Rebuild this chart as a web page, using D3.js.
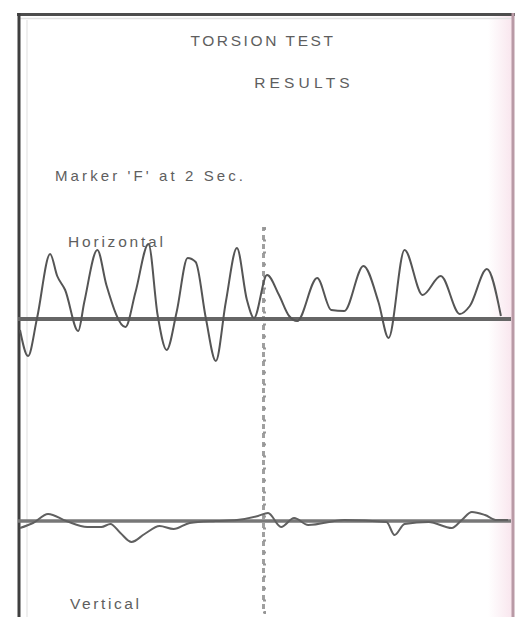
<!DOCTYPE html>
<html>
<head>
<meta charset="utf-8">
<script src="https://cdn.jsdelivr.net/npm/d3@7"></script>
<style>
  html, body { margin: 0; padding: 0; background: #fff; }
  svg { display: block; }
  text { font-family: "Liberation Sans", Arial, sans-serif; fill: #5e5e5e; }
</style>
</head>
<body>
<svg id="chart" width="520" height="617"></svg>
<script>
// ---- Data (time in seconds, displacement in arbitrary units) ----
const titleLines = ["TORSION TEST", "RESULTS"];
const markerNote = "Marker 'F' at 2 Sec.";
const seriesNames = ["Horizontal", "Vertical"];
const markerTime = 2;

const hTime  = [0, 0.066, 0.14, 0.247, 0.305, 0.37, 0.477, 0.527, 0.634, 0.708, 0.864, 0.947, 1.053, 1.128, 1.202, 1.284, 1.374, 1.44, 1.523, 1.605, 1.687, 1.778, 1.86, 1.918, 2.025, 2.123, 2.206, 2.272, 2.436, 2.551, 2.658, 2.815, 2.938, 3.021, 3.152, 3.3, 3.449, 3.605, 3.687, 3.827, 3.942];
const hValue = [-1.1, -3.7, 0.1, 6.5, 4.3, 2.9, -1.2, 1.7, 6.9, 3.4, -0.8, 2.7, 7.5, 0.4, -3.1, 0.7, 6.1, 5.7, 0.1, -4.2, 1.7, 7.1, 1.9, 0.1, 4.4, 2.4, 0.3, -0.2, 4.1, 0.9, 0.8, 5.3, 1.7, -1.9, 6.9, 2.4, 4.3, 0.5, 1.3, 5.0, 0.3];

const vTime  = [0, 0.107, 0.23, 0.379, 0.551, 0.667, 0.741, 0.823, 0.914, 1.021, 1.144, 1.259, 1.391, 1.605, 1.778, 1.951, 2.033, 2.14, 2.247, 2.362, 2.658, 3.004, 3.07, 3.152, 3.35, 3.539, 3.621, 3.704, 3.811, 3.909, 4.0];
const vValue = [-0.7, -0.2, 0.7, 0, -0.6, -0.6, -0.3, -1.2, -2.1, -1.3, -0.5, -0.8, -0.2, 0, 0.1, 0.5, 0.8, -0.6, 0.3, -0.4, 0.1, -0.1, -1.4, -0.3, -0.1, -0.7, 0.1, 0.9, 0.6, 0.1, 0.1];

// ---- Scales ----
const svg = d3.select("#chart");
const x = d3.scaleLinear().domain([0, 4]).range([20, 508]);
const yH = d3.scaleLinear().domain([-10, 10]).range([419, 219]);
const yV = d3.scaleLinear().domain([-10, 10]).range([621, 421]);

// ---- Frame & paper ----
const defs = svg.append("defs");
const grad = defs.append("linearGradient").attr("id", "pink").attr("x1", 0).attr("x2", 1);
grad.append("stop").attr("offset", "0%").attr("stop-color", "#ffffff");
grad.append("stop").attr("offset", "100%").attr("stop-color", "#f9e6ee");
svg.append("rect").attr("x", 488).attr("y", 16).attr("width", 24).attr("height", 601).attr("fill", "url(#pink)");

svg.append("line").attr("x1", 17).attr("x2", 515).attr("y1", 14.5).attr("y2", 14.5)
  .attr("stroke", "#4d4d4d").attr("stroke-width", 3);
svg.append("line").attr("x1", 20).attr("x2", 512).attr("y1", 18.5).attr("y2", 18.5)
  .attr("stroke", "#e2e2e2").attr("stroke-width", 1.5);
svg.append("line").attr("x1", 19).attr("x2", 19).attr("y1", 13).attr("y2", 617)
  .attr("stroke", "#3f3f3f").attr("stroke-width", 3);
svg.append("line").attr("x1", 27).attr("x2", 27).attr("y1", 20).attr("y2", 617)
  .attr("stroke", "#efefef").attr("stroke-width", 2);
svg.append("line").attr("x1", 513).attr("x2", 513).attr("y1", 13).attr("y2", 617)
  .attr("stroke", "#b99aa6").attr("stroke-width", 3);

// ---- Marker axis at 2 s (ruler) ----
const ruler = d3.scaleLinear().domain([0, 32]).range([228, 612]);
const rulerAxis = d3.axisRight(ruler).ticks(32).tickSize(3).tickFormat("");
const rg = svg.append("g").attr("transform", `translate(${x(markerTime) - 1},0)`).call(rulerAxis);
rg.select(".domain").attr("stroke", "#a0a0a0").attr("stroke-width", 3).attr("stroke-dasharray", "5,4");
rg.selectAll(".tick line").attr("stroke", "#959595").attr("stroke-width", 2);

// ---- Baselines ----
svg.append("line").attr("x1", 18).attr("x2", 511).attr("y1", yH(0)).attr("y2", yH(0))
  .attr("stroke", "#666").attr("stroke-width", 4);
svg.append("line").attr("x1", 18).attr("x2", 511).attr("y1", yV(0)).attr("y2", yV(0))
  .attr("stroke", "#777").attr("stroke-width", 3.5);

// ---- Traces ----
const hData = hTime.map((t, i) => ({ t, v: hValue[i] }));
const vData = vTime.map((t, i) => ({ t, v: vValue[i] }));

svg.append("path").datum(hData)
  .attr("d", d3.line().x(d => x(d.t)).y(d => yH(d.v)).curve(d3.curveMonotoneX))
  .attr("fill", "none").attr("stroke", "#555").attr("stroke-width", 2);
svg.append("path").datum(vData)
  .attr("d", d3.line().x(d => x(d.t)).y(d => yV(d.v)).curve(d3.curveMonotoneX))
  .attr("fill", "none").attr("stroke", "#606060").attr("stroke-width", 2);

// ---- Text ----
svg.append("text").attr("x", 263).attr("y", 46).attr("text-anchor", "middle")
  .attr("font-size", 15.5).attr("letter-spacing", 2.6).text(titleLines[0]);
svg.append("text").attr("x", 304).attr("y", 88).attr("text-anchor", "middle")
  .attr("font-size", 15.5).attr("letter-spacing", 4.2).text(titleLines[1]);
svg.append("text").attr("x", 55).attr("y", 181)
  .attr("font-size", 15).attr("letter-spacing", 3.1).text(markerNote);
svg.append("text").attr("x", 68).attr("y", 247)
  .attr("font-size", 15.5).attr("letter-spacing", 2.8).text(seriesNames[0]);
svg.append("text").attr("x", 70).attr("y", 609)
  .attr("font-size", 15.5).attr("letter-spacing", 2.6).text(seriesNames[1]);
</script>
</body>
</html>
